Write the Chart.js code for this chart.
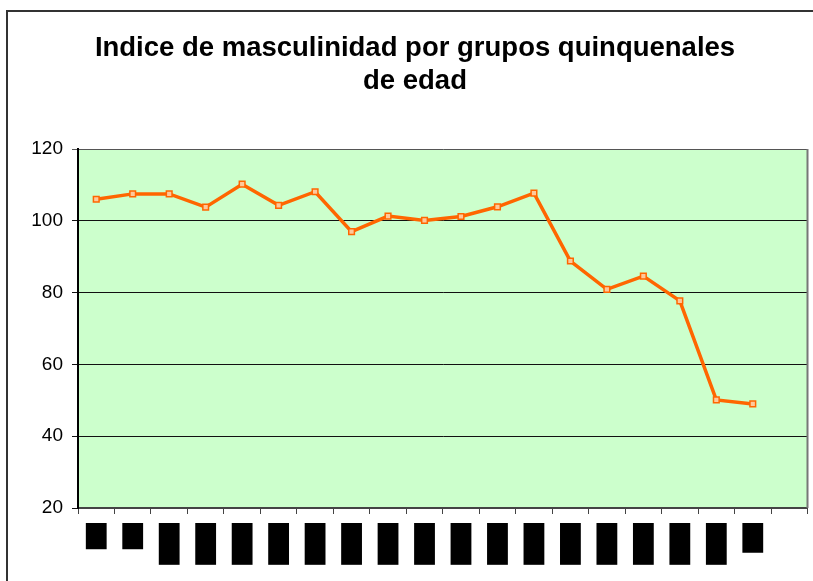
<!DOCTYPE html>
<html>
<head>
<meta charset="utf-8">
<script src="https://cdn.jsdelivr.net/npm/chart.js@4.4.0/dist/chart.umd.min.js"></script>
<style>
  html, body { margin: 0; padding: 0; background: #fff; }
  #wrap { width: 813px; height: 581px; position: relative; }
</style>
</head>
<body>
<div id="wrap"><canvas id="chart"></canvas></div>
<script>
const titleLines = ['Indice de masculinidad por grupos quinquenales', 'de edad'];
const ageGroups = ['0-4', '5-9', '10-14', '15-19', '20-24', '25-29', '30-34', '35-39', '40-44',
  '45-49', '50-54', '55-59', '60-64', '65-69', '70-74', '75-79', '80-84', '85-89', '90+', ''];
const indiceValues = [106.0, 107.5, 107.5, 103.8, 110.2, 104.3, 108.1, 97.0, 101.3, 100.1,
  101.2, 103.9, 107.7, 88.8, 80.9, 84.6, 77.7, 50.1, 49.0];
const yMin = 20, yMax = 120, yStep = 20;

// fondo verde del area, marco exterior y borde derecho
const framePlugin = {
  id: 'frame',
  beforeDraw(chart) {
    const ctx = chart.ctx;
    const a = chart.chartArea;
    ctx.save();
    ctx.fillStyle = '#CCFFCC';
    ctx.fillRect(a.left, a.top, a.right - a.left, a.bottom - a.top);
    ctx.strokeStyle = '#333';
    ctx.lineWidth = 2;
    ctx.beginPath();
    ctx.moveTo(chart.width + 5, 11);
    ctx.lineTo(7, 11);
    ctx.lineTo(7, chart.height + 5);
    ctx.stroke();
    ctx.restore();
  },
  afterDraw(chart) {
    const ctx = chart.ctx;
    const a = chart.chartArea;
    ctx.save();
    ctx.strokeStyle = '#777';
    ctx.lineWidth = 2;
    ctx.beginPath();
    ctx.moveTo(a.right, a.top);
    ctx.lineTo(a.right, a.bottom);
    ctx.stroke();
    ctx.restore();
  }
};

const tickFont = { family: 'Liberation Sans, Arial, sans-serif', size: 14 };

new Chart(document.getElementById('chart').getContext('2d'), {
  type: 'line',
  data: {
    labels: ageGroups,
    datasets: [{
      data: indiceValues,
      borderColor: '#FF6600',
      borderWidth: 3.5,
      pointStyle: 'rect',
      pointRadius: 4,
      pointBorderWidth: 1.5,
      pointBorderColor: '#FF6600',
      pointBackgroundColor: '#FFC89A',
      tension: 0
    }]
  },
  options: {
    responsive: true,
    maintainAspectRatio: false,
    animation: false,
    layout: { padding: { left: 22, right: 5, top: 0, bottom: 0 } },
    plugins: {
      legend: { display: false },
      tooltip: { enabled: false },
      title: {
        display: true,
        text: titleLines,
        color: '#000',
        font: { family: 'Liberation Sans, Arial, sans-serif', size: 27.5, weight: 'bold', lineHeight: 33 / 27.5 },
        padding: { top: 32, bottom: 51 }
      }
    },
    scales: {
      x: {
        offset: true,
        afterFit(scale) {
          scale.height = 73;
          scale.paddingLeft = 0;
          scale.paddingRight = 0;
        },
        border: { color: '#444', width: 2 },
        grid: { offset: true, drawOnChartArea: false, drawTicks: true, tickLength: 6, color: '#444' },
        ticks: {
          autoSkip: false,
          minRotation: 90,
          maxRotation: 90,
          padding: 11,
          labelOffset: -tickFont.size * 1.2 / 2,
          color: '#000',
          font: tickFont,
          showLabelBackdrop: ctx => ctx.index < ageGroups.length - 1,
          backdropColor: '#000',
          backdropPadding: { top: 2, bottom: 2, left: 4, right: 2 }
        }
      },
      y: {
        min: yMin,
        max: yMax,
        afterFit(scale) { scale.width = 56; },
        border: { color: '#000', width: 2 },
        grid: {
          color: ctx => (ctx.tick && ctx.tick.value === yMax) ? '#555' : '#111',
          lineWidth: 1,
          tickLength: 6
        },
        ticks: {
          stepSize: yStep,
          padding: 9,
          color: '#000',
          font: { family: 'Liberation Sans, Arial, sans-serif', size: 19 }
        }
      }
    }
  },
  plugins: [framePlugin]
});
</script>
</body>
</html>
